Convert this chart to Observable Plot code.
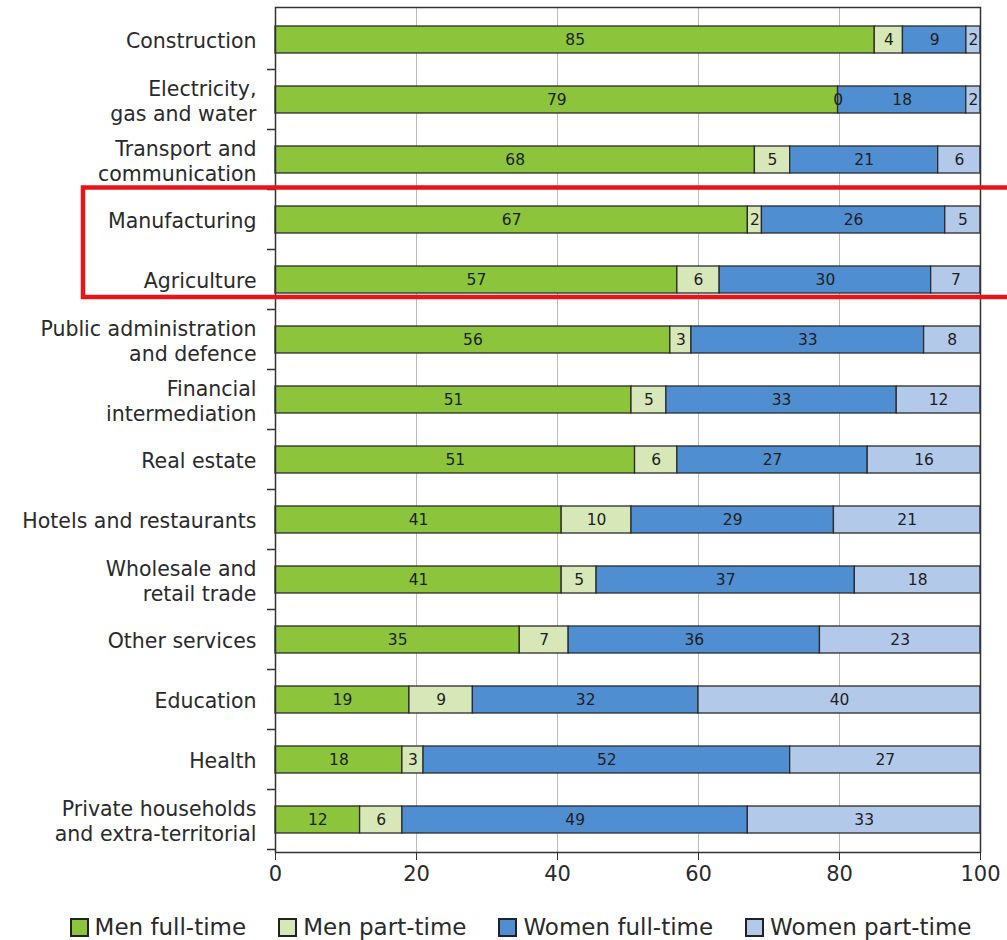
<!DOCTYPE html>
<html><head><meta charset="utf-8">
<script src="https://cdn.jsdelivr.net/npm/d3@7"></script>
<script src="https://cdn.jsdelivr.net/npm/@observablehq/plot@0.6"></script>
<style>
body{margin:0;background:#fff;font-family:"DejaVu Sans",sans-serif;color:#2a2a2a}
#legend{display:flex;justify-content:center;gap:32px;font-size:23px;line-height:28px;margin-top:13px;padding-left:34px}
#legend .item{display:flex;align-items:center;gap:6px}
#legend .sw{width:15px;height:15px;border:2px solid #222}
</style></head>
<body><div id="chart"></div><div id="legend"></div>
<script>
const sectors = ["Construction","Electricity,\ngas and water","Transport and\ncommunication","Manufacturing","Agriculture","Public administration\nand defence","Financial\nintermediation","Real estate","Hotels and restaurants","Wholesale and\nretail trade","Other services","Education","Health","Private households\nand extra-territorial"];
const menFullTime   = [85,79,68,67,57,56,51,51,41,41,35,19,18,12];
const menPartTime   = [4,0,5,2,6,3,5,6,10,5,7,9,3,6];
const womenFullTime = [9,18,21,26,30,33,33,27,29,37,36,32,52,49];
const womenPartTime = [2,2,6,5,7,8,12,16,21,18,23,40,27,33];
const seriesNames = ["Men full-time","Men part-time","Women full-time","Women part-time"];
const seriesColors = ["#8cc43c","#d8e7b7","#4f8fd1","#b3c9e9"];
const xTicks = [0,20,40,60,80,100];
const highlighted = ["Manufacturing","Agriculture"];

const seriesValues = [menFullTime, menPartTime, womenFullTime, womenPartTime];
const rows = sectors.flatMap((s,i)=>seriesNames.map((k,j)=>({sector:s, series:k, value:seriesValues[j][i]})));

const yTickMarks = (index, scales, values, dim) => {
  const y = scales.y, step = y.step(), bw = y.bandwidth();
  const g = d3.create("svg:g").attr("stroke","#333").attr("stroke-width",1.5);
  sectors.forEach(s => {
    const yb = y(s) + bw + (step-bw)/2;
    g.append("line").attr("x1",dim.marginLeft-8).attr("x2",dim.marginLeft).attr("y1",yb).attr("y2",yb);
  });
  return g.node();
};
const redBox = (index, scales, values, dim) => {
  const y = scales.y, step = y.step(), bw = y.bandwidth();
  const top = y(highlighted[0]) - (step-bw)/2 - 2;
  const bottom = y(highlighted[highlighted.length-1]) + bw + 4;
  return d3.create("svg:rect").attr("x",83).attr("y",top).attr("width",dim.width).attr("height",bottom-top)
    .attr("fill","none").attr("stroke","#e8141a").attr("stroke-width",4.5).node();
};

const chart = Plot.plot({
  width:1007, height:900,
  marginLeft:275, marginRight:27, marginTop:7, marginBottom:48,
  style:{fontFamily:"'DejaVu Sans',sans-serif", fontSize:"20.5px", color:"#2a2a2a", background:"#fff"},
  x:{domain:[0,1], label:null},
  y:{domain:sectors, paddingInner:0.55, paddingOuter:0.275, label:null},
  color:{domain:seriesNames, range:seriesColors},
  marks:[
    Plot.gridX(xTicks.map(t=>t/100), {stroke:"#aaa", strokeOpacity:0.8}),
    Plot.barX(rows, Plot.stackX({x:"value", y:"sector", fill:"series", z:"series", order:seriesNames, offset:"normalize", stroke:"#2b2b2b", strokeWidth:1.3})),
    Plot.text(rows, Plot.stackX({x:"value", y:"sector", z:"series", order:seriesNames, offset:"normalize", text:d=>String(d.value), fill:"#1e1e1e", fontSize:15.5})),
    Plot.frame({stroke:"#333", strokeWidth:1.5}),
    Plot.axisX(xTicks.map(t=>t/100), {tickSize:8, tickPadding:6, tickFormat:d=>String(Math.round(d*100)), stroke:"#333", fontSize:21}),
    Plot.axisY({tickSize:0, tickPadding:19, lineHeight:1.22}),
    yTickMarks,
    redBox
  ]
});
document.getElementById("chart").append(chart);

const legend = document.getElementById("legend");
seriesNames.forEach((n,i)=>{
  const it = document.createElement("div"); it.className="item";
  const sw = document.createElement("div"); sw.className="sw"; sw.style.background=seriesColors[i];
  const t = document.createElement("span"); t.textContent=n;
  it.append(sw,t); legend.append(it);
});
</script></body></html>
